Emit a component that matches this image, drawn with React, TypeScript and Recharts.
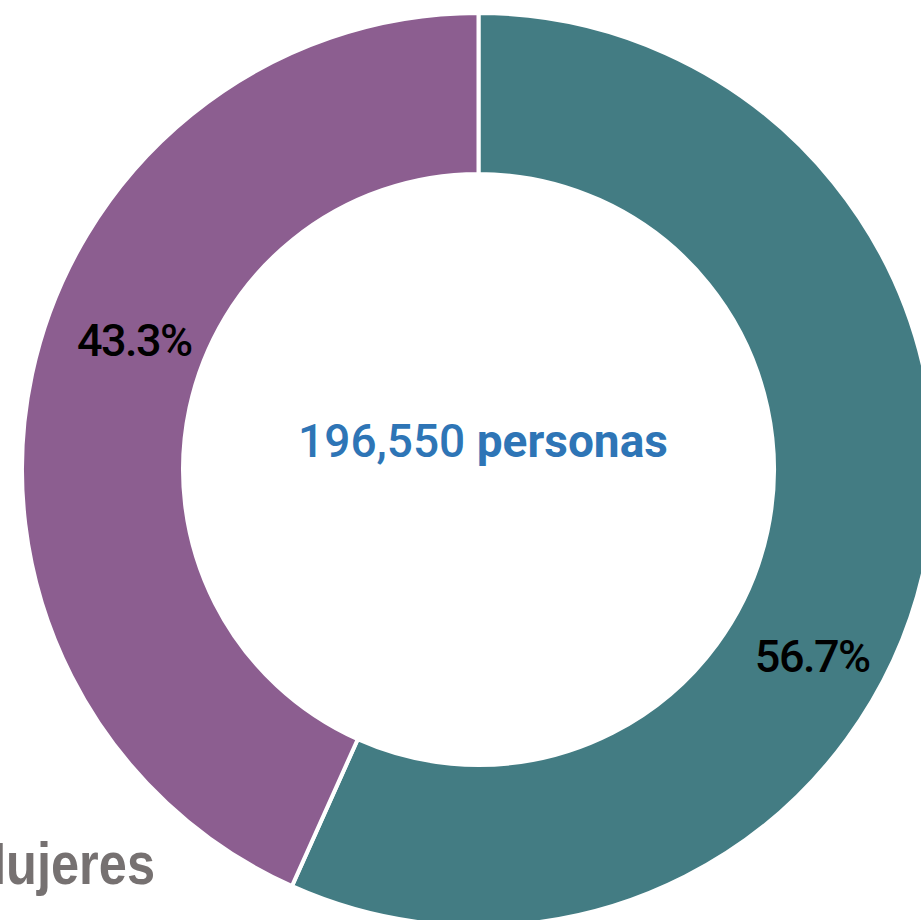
import { PieChart, Pie, Cell, Label } from "recharts";

// Distribución por sexo (porcentaje)
const categories = ["Hombres", "Mujeres"];
const shares = [56.7, 43.3];
const totalPersonas = "196,550";
const sliceColors = ["#437c83", "#8c5e90"];
// small angle / radius nudge so labels sit where the original puts them
const labelNudge = [
  { da: -17.2, dr: 6.6 },
  { da: -8.5, dr: -8.4 },
];

const data = categories.map((name, i) => ({ name, value: shares[i] }));

const W = 921;
const H = 920;

function renderLabel(props: any) {
  const { cx, cy, midAngle, innerRadius, outerRadius, index, value } = props;
  const n = labelNudge[index];
  const r = (innerRadius + outerRadius) / 2 + n.dr;
  const a = ((midAngle + n.da) * Math.PI) / 180;
  const x = cx + r * Math.cos(a);
  const y = cy - r * Math.sin(a);
  return (
    <text
      x={x}
      y={y}
      textAnchor="middle"
      dominantBaseline="central"
      fill="#000"
      fontFamily="Roboto, sans-serif"
      fontWeight={500}
      fontSize={45}
      letterSpacing={-1.5}
    >
      {Number(value).toFixed(1)}%
    </text>
  );
}

function CenterText(props: any) {
  const vb = props.viewBox || {};
  const cx = vb.cx ?? 478;
  const cy = vb.cy ?? 469;
  return (
    <text
      x={cx + 5}
      y={cy - 12}
      textAnchor="middle"
      fill="#2e75b6"
      fontFamily="Roboto, sans-serif"
      fontSize={46}
    >
      <tspan fontWeight={500}>{totalPersonas} </tspan>
      <tspan fontWeight="bold">personas</tspan>
    </text>
  );
}

export default function App() {
  return (
    <div style={{ position: "fixed", left: 0, top: 0, width: W, height: H, background: "#fff", overflow: "hidden" }}>
      <PieChart width={W} height={H} margin={{ top: 0, right: 0, bottom: 0, left: 0 }}>
        <Pie
          data={data}
          dataKey="value"
          nameKey="name"
          cx={478.5}
          cy={469.5}
          innerRadius={295.5}
          outerRadius={456.5}
          startAngle={90}
          endAngle={-270}
          stroke="#ffffff"
          strokeWidth={4}
          label={renderLabel}
          labelLine={false}
          isAnimationActive={false}
        >
          {data.map((_, i) => (
            <Cell key={i} fill={sliceColors[i]} />
          ))}
          <Label position="center" content={<CenterText />} />
        </Pie>
      </PieChart>
      <svg width={W} height={H} style={{ position: "absolute", left: 0, top: 0, pointerEvents: "none" }}>
        {/* legend-style category label, cut at the left edge like the original */}
        <text
          x={-36}
          y={884}
          textLength={191}
          lengthAdjust="spacingAndGlyphs"
          fill="#767171"
          fontFamily="'Liberation Sans', Arial, sans-serif"
          fontWeight="bold"
          fontSize={60}
        >
          {categories[1]}
        </text>
      </svg>
    </div>
  );
}
